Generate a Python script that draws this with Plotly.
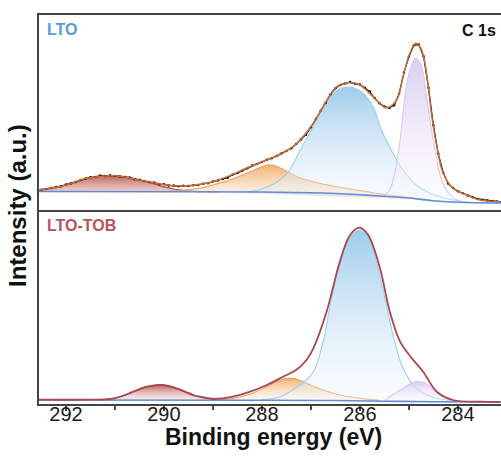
import plotly.graph_objects as go
from plotly.subplots import make_subplots

# ---------------- TOP PANEL (LTO) ----------------
top_base_E = [292.55, 290.0, 288.0, 287.0, 286.5, 286.0, 285.5, 285.0, 284.5, 284.0, 283.1]
top_base_I = [18.0, 17.8, 17.5, 16.8, 16.0, 14.8, 13.2, 11.5, 8.8, 7.2, 6.5]

top_fit_E = [292.55, 292.3, 291.99, 291.58, 291.04, 290.49, 290.08, 289.67, 289.27, 288.93,
             288.59, 288.24, 287.90, 287.57, 287.29, 286.95, 286.61, 286.47, 286.24, 286.00,
             285.73, 285.46, 285.25, 285.12, 284.98, 284.86, 284.74, 284.64, 284.54, 284.43,
             284.30, 284.10, 283.82, 283.55, 283.14]
top_fit_I = [19.5, 21.5, 24.5, 31.2, 33.8, 29.5, 25.5, 23.5, 25.0, 28.8,
             35.2, 43.0, 49.5, 56.5, 66.0, 86.2, 114.5, 122.8, 126.8, 124.5,
             112.8, 101.8, 109.5, 132.8, 156.2, 166.2, 159.5, 136.2, 96.2, 62.8,
             36.2, 21.2, 14.5, 9.5, 7.8]

top_raw_E = [292.5, 292.4, 292.3, 292.2, 292.1, 292.0, 291.9, 291.8, 291.7, 291.6,
             291.5, 291.4, 291.3, 291.2, 291.1, 291.0, 290.9, 290.8, 290.7, 290.6,
             290.5, 290.4, 290.3, 290.2, 290.1, 290.0, 289.9, 289.8, 289.7, 289.6,
             289.5, 289.4, 289.3, 289.2, 289.1, 289.0, 288.9, 288.8, 288.7, 288.6,
             288.5, 288.4, 288.3, 288.2, 288.1, 288.0, 287.9, 287.8, 287.7, 287.6,
             287.5, 287.4, 287.3, 287.2, 287.1, 287.0, 286.9, 286.8, 286.7, 286.6,
             286.5, 286.4, 286.3, 286.2, 286.1, 286.0, 285.9, 285.8, 285.7, 285.6,
             285.5, 285.4, 285.3, 285.2, 285.1, 285.0, 284.9, 284.8, 284.7, 284.6,
             284.5, 284.4, 284.3, 284.2, 284.1, 284.0, 283.9, 283.8, 283.7, 283.6,
             283.5, 283.4, 283.3, 283.2, 283.1]
top_raw_I = [19.8, 20.6, 21.4, 22.6, 23.3, 24.9, 26.0, 27.6, 29.4, 30.9,
             32.3, 32.6, 33.9, 33.5, 34.2, 33.6, 33.1, 32.4, 31.9, 30.3,
             29.8, 28.6, 27.4, 26.9, 25.4, 25.2, 24.1, 23.9, 23.2, 23.8,
             23.4, 24.3, 24.6, 25.8, 26.3, 27.9, 29.1, 30.6, 31.8, 34.7,
             36.4, 38.9, 41.2, 43.9, 45.6, 47.4, 49.8, 51.3, 53.6, 55.9,
             58.4, 61.2, 65.4, 70.1, 74.8, 82.3, 90.6, 98.7, 106.4, 115.2,
             121.3, 124.6, 126.1, 127.4, 125.8, 124.9, 121.7, 117.9, 111.4, 106.2,
             102.9, 101.6, 104.2, 115.8, 136.9, 152.7, 164.1, 164.9, 153.2, 121.8,
             84.3, 55.7, 36.8, 26.1, 21.4, 18.3, 16.2, 14.1, 12.3, 10.6,
             9.8, 9.1, 8.4, 8.1, 7.6]

top_red_E = [292.55, 292.2, 292.0, 291.6, 291.3, 291.0, 290.7, 290.4, 290.1, 289.8, 289.5, 289.2, 288.9]
top_red_I = [19.0, 21.8, 24.3, 30.5, 33.0, 33.6, 32.0, 28.3, 24.0, 20.5, 18.6, 17.8, 17.6]

top_orange_E = [290.0, 289.6, 289.27, 288.93, 288.59, 288.24, 288.0, 287.9, 287.75, 287.63,
                287.43, 287.29, 286.95, 286.6, 286.27, 285.9, 285.59, 285.2, 284.8]
top_orange_I = [17.8, 19.3, 21.2, 25.5, 30.6, 37.5, 42.8, 44.5, 44.0, 41.5,
                36.5, 33.0, 27.8, 24.0, 21.0, 18.2, 15.8, 13.2, 11.0]

top_blue_E = [288.3, 288.0, 287.63, 287.43, 287.22, 286.99, 286.75, 286.51, 286.24, 285.97,
              285.73, 285.56, 285.36, 285.12, 284.85, 284.57, 284.23, 283.9]
top_blue_I = [17.8, 20.5, 29.5, 39.5, 59.5, 79.5, 102.8, 117.8, 122.5, 117.8,
              102.8, 79.5, 59.5, 39.5, 24.5, 16.2, 11.0, 7.8]

top_purple_E = [285.5, 285.39, 285.29, 285.18, 285.08, 284.98, 284.86, 284.74, 284.64, 284.54,
                284.43, 284.33, 284.16, 284.0, 283.8]
top_purple_I = [14.0, 19.5, 36.2, 69.5, 112.8, 139.5, 151.2, 142.8, 112.8, 79.5,
                49.5, 29.5, 14.5, 9.0, 7.5]

# ---------------- BOTTOM PANEL (LTO-TOB) ----------------
bot_base_E = [292.55, 288.0, 286.5, 285.5, 284.5, 283.1]
bot_base_I = [4.0, 3.8, 3.5, 2.8, 2.2, 2.0]

bot_fit_E = [292.55, 291.5, 291.10, 290.85, 290.63, 290.35, 290.03, 289.74, 289.55, 289.40,
             289.27, 288.99, 288.80, 288.59, 288.24, 287.90, 287.57, 287.29, 287.09, 286.95,
             286.68, 286.41, 286.20, 286.01, 285.83, 285.59, 285.39, 285.18, 284.94, 284.71,
             284.43, 284.10, 283.55, 283.14]
bot_fit_I = [4.3, 4.4, 5.0, 8.0, 12.3, 17.3, 19.0, 15.7, 12.0, 9.0,
             7.3, 5.2, 5.6, 7.3, 12.3, 19.0, 27.3, 34.5, 44.0, 55.7,
             92.3, 142.3, 169.0, 176.3, 169.0, 135.7, 92.3, 62.3, 45.7, 32.3,
             12.3, 4.0, 2.3, 2.0]

bot_red_E = [291.4, 291.1, 290.85, 290.63, 290.35, 290.03, 289.74, 289.55, 289.4, 289.1, 288.8]
bot_red_I = [4.2, 5.0, 8.0, 12.0, 17.0, 18.8, 15.3, 11.6, 8.6, 5.3, 4.0]

bot_orange_E = [288.9, 288.59, 288.24, 287.9, 287.63, 287.45, 287.3, 287.09, 286.75, 286.41, 286.0, 285.6]
bot_orange_I = [4.0, 5.5, 10.0, 17.5, 24.0, 25.8, 25.0, 20.7, 14.0, 9.0, 5.7, 3.6]

bot_blue_E = [288.0, 287.63, 287.43, 287.22, 286.95, 286.75, 286.58, 286.41, 286.24, 286.01,
              285.83, 285.63, 285.46, 285.29, 285.12, 284.91, 284.71, 284.43, 284.1]
bot_blue_I = [4.0, 7.3, 12.3, 19.0, 32.3, 62.3, 105.7, 139.0, 164.0, 174.0,
              167.3, 135.7, 99.0, 62.3, 35.7, 19.0, 10.7, 5.7, 3.0]

bot_purple_E = [285.5, 285.39, 285.12, 284.95, 284.82, 284.7, 284.57, 284.37, 284.16, 283.9]
bot_purple_I = [3.0, 7.3, 15.7, 21.0, 22.5, 21.5, 17.3, 9.0, 4.0, 2.5]

tick_vals = [292, 290, 288, 286, 284]
tick_text = ["292", "290", "288", "286", "284"]
minor_tick_vals = [291, 289, 287, 285]

FONT = "Liberation Sans, Arial, sans-serif"

comp_styles = {
    "red": ("rgb(178,72,62)", [[0, "rgba(250,228,228,0.35)"], [1, "rgba(185,88,78,0.9)"]]),
    "orange": ("rgb(232,160,90)", [[0, "rgba(255,242,228,0.35)"], [1, "rgba(240,168,98,0.9)"]]),
    "blue": ("rgb(155,208,234)", [[0, "rgba(240,247,255,0.3)"], [1, "rgba(132,190,228,0.78)"]]),
    "purple": ("rgb(215,200,238)", [[0, "rgba(250,248,255,0.3)"], [1, "rgba(214,200,240,0.9)"]]),
}

fig = make_subplots(rows=2, cols=1, shared_xaxes=True, vertical_spacing=0)


def add_component(row, bE, bI, cE, cI, key):
    lc, cs = comp_styles[key]
    fig.add_trace(go.Scatter(x=bE, y=bI, mode="lines", line=dict(width=0, shape="spline"),
                             hoverinfo="skip", showlegend=False), row=row, col=1)
    fig.add_trace(go.Scatter(x=cE, y=cI, mode="lines", fill="tonexty",
                             fillgradient=dict(type="vertical", colorscale=cs),
                             line=dict(color=lc, width=1.1, shape="spline", smoothing=1),
                             showlegend=False), row=row, col=1)


# top components
add_component(1, top_base_E, top_base_I, top_red_E, top_red_I, "red")
add_component(1, top_base_E, top_base_I, top_orange_E, top_orange_I, "orange")
add_component(1, top_base_E, top_base_I, top_blue_E, top_blue_I, "blue")
add_component(1, top_base_E, top_base_I, top_purple_E, top_purple_I, "purple")
fig.add_trace(go.Scatter(x=top_raw_E, y=top_raw_I, mode="lines+markers",
                         line=dict(color="#111111", width=1.2),
                         marker=dict(color="#111111", size=2.5), showlegend=False), row=1, col=1)
fig.add_trace(go.Scatter(x=top_fit_E, y=top_fit_I, mode="lines",
                         line=dict(color="rgb(200,108,58)", width=1.5, shape="spline", smoothing=1),
                         showlegend=False), row=1, col=1)
fig.add_trace(go.Scatter(x=top_base_E, y=top_base_I, mode="lines",
                         line=dict(color="rgb(95,140,215)", width=1.6, shape="spline"),
                         showlegend=False), row=1, col=1)

# bottom components
add_component(2, bot_base_E, bot_base_I, bot_red_E, bot_red_I, "red")
add_component(2, bot_base_E, bot_base_I, bot_orange_E, bot_orange_I, "orange")
add_component(2, bot_base_E, bot_base_I, bot_blue_E, bot_blue_I, "blue")
add_component(2, bot_base_E, bot_base_I, bot_purple_E, bot_purple_I, "purple")
fig.add_trace(go.Scatter(x=bot_base_E, y=bot_base_I, mode="lines",
                         line=dict(color="rgb(95,140,215)", width=1.6, shape="spline"),
                         showlegend=False), row=2, col=1)
fig.add_trace(go.Scatter(x=bot_fit_E, y=bot_fit_I, mode="lines",
                         line=dict(color="rgb(170,70,80)", width=1.8, shape="spline", smoothing=1),
                         showlegend=False), row=2, col=1)

xrange = [292.55, 283.12]
axis_line = dict(showline=True, linecolor="#444444", linewidth=2, showgrid=False, zeroline=False)

fig.update_xaxes(range=xrange, **axis_line, mirror=True, ticks="", showticklabels=False, row=1, col=1)
fig.update_xaxes(range=xrange, **axis_line, ticks="outside", ticklen=5, tickwidth=1.5,
                 tickcolor="#444444", tickvals=tick_vals, ticktext=tick_text,
                 ticklabelstandoff=-14,
                 tickfont=dict(family=FONT, size=20, color="#1a1a1a"),
                 minor=dict(tickvals=minor_tick_vals, ticks="outside", ticklen=4,
                            tickwidth=1.5, tickcolor="#444444"),
                 row=2, col=1)
fig.update_yaxes(range=[0, 194.5], **axis_line, ticks="", showticklabels=False, row=1, col=1)
fig.update_yaxes(range=[0, 194.5], **axis_line, ticks="", showticklabels=False, row=2, col=1)
fig.update_layout(yaxis=dict(domain=[0.5, 1.0]), yaxis2=dict(domain=[0.0, 0.5]))

fig.update_layout(
    width=501, height=463,
    margin=dict(l=39, r=0, t=15, b=59),
    plot_bgcolor="white", paper_bgcolor="white",
    font=dict(family=FONT),
    annotations=[
        dict(text="<b>LTO</b>", x=0.013, y=0.964, xref="paper", yref="paper",
             xanchor="left", yanchor="middle", showarrow=False,
             font=dict(family=FONT, size=16, color="rgb(91,155,213)")),
        dict(text="<b>LTO-TOB</b>", x=0.013, y=0.460, xref="paper", yref="paper",
             xanchor="left", yanchor="middle", showarrow=False,
             font=dict(family=FONT, size=16, color="rgb(181,84,92)")),
        dict(text="<b>C 1s</b>", x=0.9935, y=0.9614, xref="paper", yref="paper",
             xanchor="right", yanchor="middle", showarrow=False,
             font=dict(family=FONT, size=16, color="#111111")),
        dict(text="<b>Binding energy (eV)</b>", x=0.507, y=-0.086, xref="paper", yref="paper",
             xanchor="center", yanchor="middle", showarrow=False,
             font=dict(family=FONT, size=23, color="#111111")),
        dict(text="<b>Intensity (a.u.)</b>", x=-0.0455, y=0.5116, xref="paper", yref="paper",
             xanchor="center", yanchor="middle", showarrow=False, textangle=-90,
             font=dict(family=FONT, size=24, color="#111111")),
    ],
)

fig.write_html("out.html")
